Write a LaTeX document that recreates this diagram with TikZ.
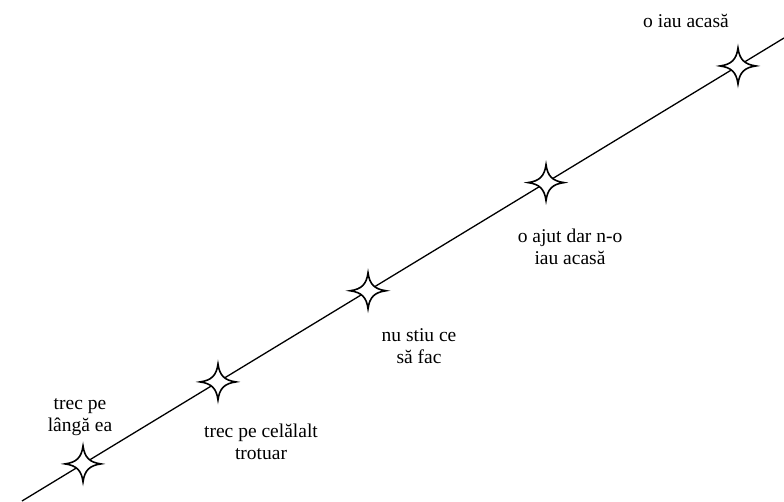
\documentclass[tikz,border=0pt]{standalone}
\usepackage{fontspec}
\setmainfont{Liberation Serif}
\newfontfamily\etfont{Liberation Serif}
\usetikzlibrary{calc}

\tikzset{
  stea/.pic={
    \filldraw[fill=white, line width=1.6pt, line join=miter]
      (0,18) .. controls (1.5,6.5) and (6.5,1.5) .. (18,0)
             .. controls (6.5,-1.5) and (1.5,-6.5) .. (0,-18)
             .. controls (-1.5,-6.5) and (-6.5,-1.5) .. (-18,0)
             .. controls (-6.5,1.5) and (-1.5,6.5) .. (0,18) -- cycle;
  },
  eticheta/.style={align=center, inner sep=0pt,
    font=\etfont\fontsize{19.5}{22}\selectfont}
}

\begin{document}
\begin{tikzpicture}[x=1pt, y=1pt]
    \useasboundingbox (0,0) rectangle (784,501);
    \coordinate (start) at (22,0);
    \coordinate (stop) at (784,463);
    \draw[line width=1.3pt] (start) -- (stop);
    % stelele de pe linie
    \foreach \t/\n in {0.0801/s1, 0.2572/s2, 0.4541/s3, 0.6877/s4, 0.9396/s5}
      \coordinate (\n) at ($(start)!\t!(stop)$);
    \foreach \n in {s1,s2,s3,s4,s5}
      \pic at (\n) {stea};
    \node[eticheta] (e1) at (80,84) {trec pe\\lângă ea};
    \node[eticheta] (e2) at (261,59) {trec pe celălalt\\trotuar};
    \node[eticheta] (e3) at (419,155) {nu stiu ce\\să fac};
    \node[eticheta] (e4) at (570,254) {o ajut dar n-o\\iau acasă};
    \node[eticheta, anchor=base] (e5) at (686,473) {o iau acasă};
  \end{tikzpicture}
\end{document}
